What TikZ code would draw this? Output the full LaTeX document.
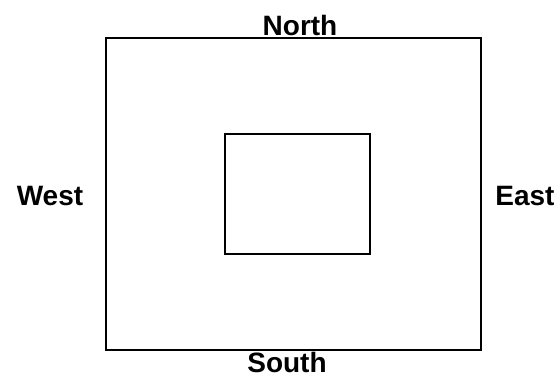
\documentclass[tikz,border=0pt]{standalone}
\usepackage{fontspec}
\setmainfont{Liberation Sans}
\usepackage{tikz}

\tikzset{
  side/.style={font=\fontsize{28}{30}\selectfont\bfseries, inner sep=0pt, anchor=base}
}

\begin{document}
\begin{tikzpicture}[x=1pt, y=-1pt]
\useasboundingbox (0,0) rectangle (558,373);
\draw[line width=1.5pt] (106,38) rectangle (481,350);
\draw[line width=1.5pt] (225,134) rectangle (370,254);
\node[side] (north) at (300,35) {North};
\node[side] (south) at (287,372) {South};
\node[side] (west) at (50,205) {West};
\node[side] (east) at (525,205) {East};
\end{tikzpicture}
\end{document}
